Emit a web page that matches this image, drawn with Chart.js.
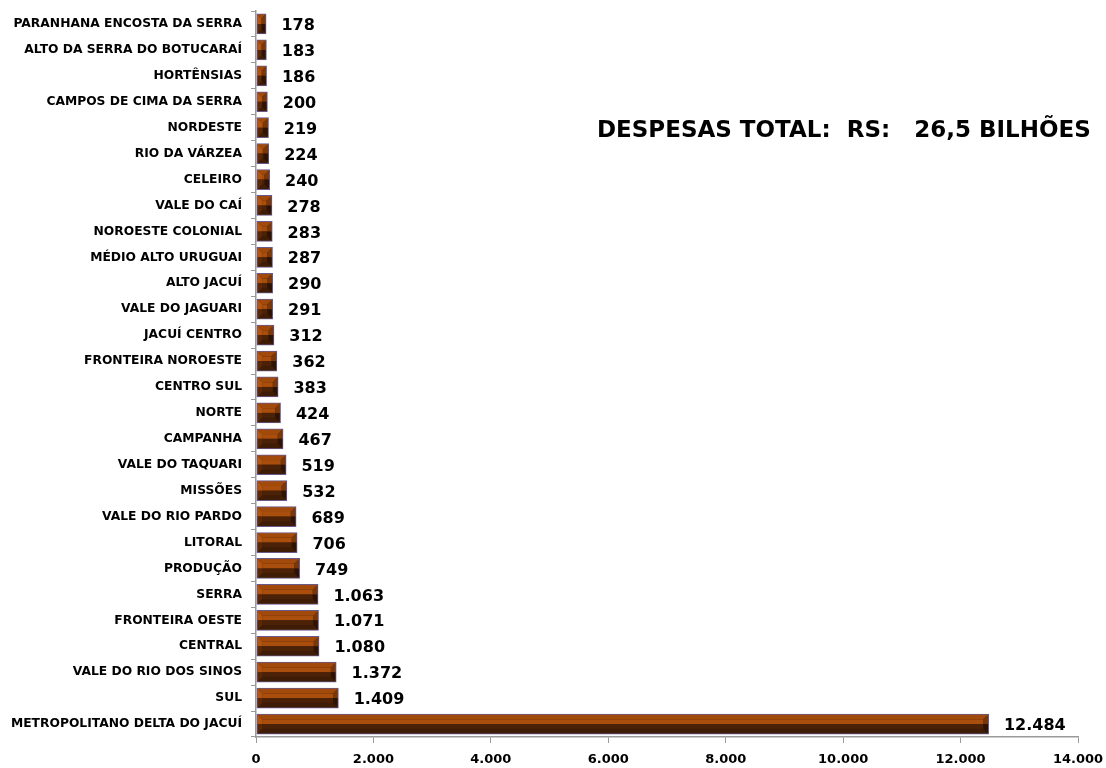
<!DOCTYPE html>
<html>
<head>
<meta charset="utf-8">
<script src="https://cdn.jsdelivr.net/npm/chart.js@4"></script>
<style>
  html, body { margin: 0; padding: 0; background: #ffffff; }
  #wrap { position: relative; width: 1106px; height: 768px; }
</style>
</head>
<body>
<div id="wrap"><canvas id="c" width="1106" height="768"></canvas></div>
<script>
const categories = [
  "PARANHANA ENCOSTA DA SERRA",
  "ALTO DA SERRA DO BOTUCARAÍ",
  "HORTÊNSIAS",
  "CAMPOS DE CIMA DA SERRA",
  "NORDESTE",
  "RIO DA VÁRZEA",
  "CELEIRO",
  "VALE DO CAÍ",
  "NOROESTE COLONIAL",
  "MÉDIO ALTO URUGUAI",
  "ALTO JACUÍ",
  "VALE DO JAGUARI",
  "JACUÍ CENTRO",
  "FRONTEIRA NOROESTE",
  "CENTRO SUL",
  "NORTE",
  "CAMPANHA",
  "VALE DO TAQUARI",
  "MISSÕES",
  "VALE DO RIO PARDO",
  "LITORAL",
  "PRODUÇÃO",
  "SERRA",
  "FRONTEIRA OESTE",
  "CENTRAL",
  "VALE DO RIO DOS SINOS",
  "SUL",
  "METROPOLITANO DELTA DO JACUÍ"
];
const despesas = [178, 183, 186, 200, 219, 224, 240, 278, 283, 287, 290, 291, 312, 362, 383, 424, 467, 519, 532, 689, 706, 749, 1063, 1071, 1080, 1372, 1409, 12484];
const xTicks = [0, 2000, 4000, 6000, 8000, 10000, 12000, 14000];
const titleText = "DESPESAS TOTAL:  RS:   26,5 BILHÕES";

const FONT = "'DejaVu Sans', sans-serif";
function fmt(v) {
  return String(v).replace(/\B(?=(\d{3})+(?!\d))/g, ".");
}

const bevelPlugin = {
  id: 'bevel',
  afterDatasetsDraw(chart) {
    const ctx = chart.ctx;
    const meta = chart.getDatasetMeta(0);
    meta.data.forEach((bar, i) => {
      const p = bar.getProps(['x', 'y', 'base', 'height'], true);
      const x0 = Math.min(p.base, p.x) + 1, x1 = Math.max(p.base, p.x) - 1;
      const y0 = p.y - p.height / 2 + 1, y1 = p.y + p.height / 2 - 1;
      const h = y1 - y0, w = x1 - x0;
      const mid = (y0 + y1) / 2;
      const b = Math.min(h * 0.25, w / 2);
      ctx.save();
      const poly = (pts, col) => {
        ctx.beginPath();
        ctx.moveTo(pts[0][0], pts[0][1]);
        for (let k = 1; k < pts.length; k++) ctx.lineTo(pts[k][0], pts[k][1]);
        ctx.closePath();
        ctx.fillStyle = col;
        ctx.fill();
      };
      poly([[x0 + b, y0 + b], [x1 - b, y0 + b], [x1 - b, mid], [x0 + b, mid]], '#A94E0C');
      poly([[x0 + b, mid], [x1 - b, mid], [x1 - b, y1 - b], [x0 + b, y1 - b]], '#4B2107');
      poly([[x0, y0], [x1, y0], [x1 - b, y0 + b], [x0 + b, y0 + b]], '#A24A0B');
      poly([[x0, y1], [x1, y1], [x1 - b, y1 - b], [x0 + b, y1 - b]], '#3E1C05');
      poly([[x0, y0], [x0 + b, y0 + b], [x0 + b, mid], [x0, mid]], '#B3550E');
      poly([[x0, mid], [x0 + b, mid], [x0 + b, y1 - b], [x0, y1]], '#5A2808');
      poly([[x1, y0], [x1 - b, y0 + b], [x1 - b, mid], [x1, mid]], '#7A3708');
      poly([[x1, mid], [x1 - b, mid], [x1 - b, y1 - b], [x1, y1]], '#2E1303');
      ctx.restore();

      ctx.save();
      ctx.font = "bold 16px " + FONT;
      ctx.fillStyle = '#000000';
      ctx.textAlign = 'left';
      ctx.textBaseline = 'middle';
      ctx.fillText(fmt(despesas[i]), p.x + 15, p.y + 2);
      ctx.restore();
    });
  },
  afterDraw(chart) {
    const ctx = chart.ctx;
    ctx.save();
    ctx.font = "bold 23px " + FONT;
    ctx.fillStyle = '#000000';
    ctx.textAlign = 'left';
    ctx.textBaseline = 'middle';
    ctx.fillText(titleText, 597, 131);
    ctx.restore();
  }
};

new Chart(document.getElementById('c'), {
  type: 'bar',
  data: {
    labels: categories,
    datasets: [{
      data: despesas,
      backgroundColor: '#4B2107',
      borderColor: '#6A5A8C',
      borderWidth: 1.5,
      borderSkipped: false,
      barPercentage: 0.8,
      categoryPercentage: 1.0
    }]
  },
  options: {
    indexAxis: 'y',
    responsive: false,
    animation: false,
    devicePixelRatio: 1,
    layout: { padding: { top: 11, right: 28, left: 0, bottom: 0 } },
    plugins: {
      legend: { display: false },
      tooltip: { enabled: false },
      title: { display: false }
    },
    scales: {
      x: {
        min: 0,
        max: 14000,
        afterBuildTicks(axis) { axis.ticks = xTicks.map(v => ({ value: v })); },
        afterFit(axis) { axis.height = 31; axis.paddingLeft = 0; axis.paddingRight = 0; },
        grid: { display: true, drawOnChartArea: false, drawTicks: true, tickLength: 6, color: '#9a9a9a' },
        border: { display: true, color: '#9a9a9a', width: 1.5 },
        ticks: {
          color: '#000000',
          font: { family: FONT, size: 13, weight: 'bold' },
          padding: 9,
          maxRotation: 0,
          autoSkip: false,
          callback: (v) => fmt(v)
        }
      },
      y: {
        offset: true,
        afterFit(axis) { axis.width = 256; axis.paddingTop = 0; axis.paddingBottom = 0; },
        grid: { display: true, offset: true, drawOnChartArea: false, drawTicks: true, tickLength: 5, color: '#9a9a9a' },
        border: { display: true, color: '#9a9a9a', width: 1.5 },
        ticks: {
          color: '#000000',
          font: { family: FONT, size: 12.3, weight: 'bold' },
          padding: 9,
          autoSkip: false
        }
      }
    }
  },
  plugins: [bevelPlugin]
});
</script>
</body>
</html>
